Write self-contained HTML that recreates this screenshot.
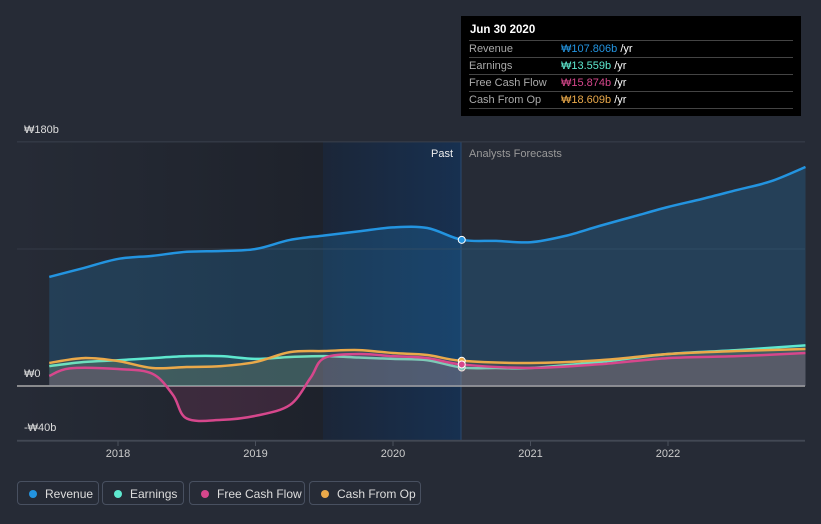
<!DOCTYPE html>
<html><head><meta charset="utf-8"><style>
body{margin:0;width:821px;height:524px;background:#262b36;font-family:"Liberation Sans","Noto Sans CJK KR",sans-serif;overflow:hidden;position:relative}
svg{position:absolute;left:0;top:0}
.tt{position:absolute;left:461px;top:16px;width:340px;height:100px;background:#000;color:#fff;font-size:11px}
.tt .h{font-weight:bold;font-size:11.5px;padding:8px 9px 4px}
.tt .r{border-top:1px solid #444;margin:0 8px;height:16px;line-height:16px;padding-left:0;display:flex}
.tt .r span:first-child{width:92px;color:#aaa}
.leg{position:absolute;top:481px;height:24px;border:1px solid #485060;border-radius:4px;color:#ddd;font-size:12px;line-height:24px;box-sizing:border-box;padding-left:27px}
.leg i{position:absolute;left:11px;top:8px;width:8px;height:8px;border-radius:50%}
</style></head><body>
<svg id="c" width="821" height="524"></svg>
<div class="tt">
<div class="h">Jun 30 2020</div>
<div class="r"><span>Revenue</span><span><b style="color:#2394e0;font-weight:normal">₩107.806b</b> /yr</span></div>
<div class="r"><span>Earnings</span><span><b style="color:#5ee8cf;font-weight:normal">₩13.559b</b> /yr</span></div>
<div class="r"><span>Free Cash Flow</span><span><b style="color:#d6478c;font-weight:normal">₩15.874b</b> /yr</span></div>
<div class="r" style="border-bottom:1px solid #444"><span>Cash From Op</span><span><b style="color:#eaa94a;font-weight:normal">₩18.609b</b> /yr</span></div>
</div>
<div class="leg" style="left:17px;width:82px"><i style="background:#2394e0"></i>Revenue</div>
<div class="leg" style="left:102px;width:82px"><i style="background:#5ee8cf"></i>Earnings</div>
<div class="leg" style="left:189px;width:116px"><i style="background:#d6478c"></i>Free Cash Flow</div>
<div class="leg" style="left:309px;width:112px"><i style="background:#eaa94a"></i>Cash From Op</div>
<script>
const revT=[2017.5,2017.75,2018,2018.25,2018.5,2018.75,2019,2019.25,2019.5,2019.75,2020,2020.25,2020.5,2020.75,2021,2021.25,2021.5,2021.75,2022,2022.25,2022.5,2022.75,2023];
const revV=[80.4,87,93.7,96,99,99.6,101,107.7,111,114,117,116.5,107.8,107,106,110.6,118,125,132,138,144.5,151,161.5];
const earnT=[2017.5,2017.75,2018,2018.25,2018.5,2018.75,2019,2019.25,2019.5,2019.75,2020,2020.25,2020.5,2020.75,2021,2021.5,2022,2022.5,2023];
const earnV=[14.7,17.7,19,20.6,22,22,20,21.4,22,21,20,19,13.6,13.3,13.3,17.7,23.6,26.5,30];
const fcfT=[2017.5,2017.65,2018,2018.25,2018.4,2018.5,2018.75,2019,2019.25,2019.4,2019.5,2019.75,2020,2020.25,2020.5,2021,2021.5,2022,2022.5,2023];
const fcfV=[7.4,13,12.5,9,-6.6,-24,-25,-22,-14,6,20.6,23.6,22,20.6,15.9,13.3,16,20.6,22,24.3];
const cfoT=[2017.5,2017.75,2018,2018.25,2018.5,2018.75,2019,2019.25,2019.5,2019.75,2020,2020.25,2020.5,2021,2021.5,2022,2022.5,2023];
const cfoV=[17,20.6,18.4,13.3,14,14.7,17.7,25,25.8,26.5,24.3,22.9,18.6,17,19,23.6,25.8,27.3];
const yTicks=[180,0,-40];const yLabels=["₩180b","₩0","-₩40b"];
const xTicks=[2018,2019,2020,2021,2022];
const X=t=>118+(t-2018)*137.5, Y=v=>386-v*1.356;
const s=document.getElementById('c'),NS='http://www.w3.org/2000/svg';
function el(tag,a,p){const e=document.createElementNS(NS,tag);for(const k in a)e.setAttribute(k,a[k]);(p||s).appendChild(e);return e;}
const defs=el('defs',{});
defs.innerHTML='<linearGradient id="hl" x1="0" x2="1"><stop offset="0" stop-color="#1b2638"/><stop offset="1" stop-color="#173050"/></linearGradient><linearGradient id="pd" x1="0" x2="1"><stop offset="0" stop-color="#262b36"/><stop offset="1" stop-color="#1e222b"/></linearGradient>';
let r=el('rect',{x:17,y:142,width:306,height:299,fill:'url(#pd)'});
r=el('rect',{x:323,y:142,width:138,height:299,fill:'url(#hl)'});
el('line',{x1:461,x2:461,y1:142,y2:441,stroke:'#2b4a70'});
yTicks.forEach((v,i)=>{const g=el('line',{x1:17,x2:805,y1:Y(v),y2:Y(v),stroke:v==0?'#aaa':'#3a404c','stroke-width':v==0?1.5:1});
const t=el('text',{x:24,y:Y(v)-9,fill:'#ddd','font-size':11});t.textContent=yLabels[i];});
el('line',{x1:17,x2:805,y1:Y(101),y2:Y(101),stroke:'#343a46'});
el('line',{x1:17,x2:805,y1:441,y2:441,stroke:'#4a505c'});
xTicks.forEach(t=>{el('line',{x1:X(t),x2:X(t),y1:441,y2:446,stroke:'#4a505c'});const l=el('text',{x:X(t),y:457,fill:'#ccc','font-size':11,'text-anchor':'middle'});l.textContent=t;});
let t1=el('text',{x:453,y:157,fill:'#eee','font-size':11,'text-anchor':'end'});t1.textContent='Past';
let t2=el('text',{x:469,y:157,fill:'#999','font-size':11});t2.textContent='Analysts Forecasts';
function path(T,V){const p=T.map((t,i)=>[X(t),Y(V[i])]);let d='M'+p[0];for(let i=0;i<p.length-1;i++){const p0=p[i-1]||p[i],p1=p[i],p2=p[i+1],p3=p[i+2]||p2;const c1=[p1[0]+(p2[0]-p0[0])/6,p1[1]+(p2[1]-p0[1])/6],c2=[p2[0]-(p3[0]-p1[0])/6,p2[1]-(p3[1]-p1[1])/6];d+='C'+c1+' '+c2+' '+p2;}return d;}
const series=[['revenue',revT,revV,'#2394e0',0.2],['earnings',earnT,earnV,'#5ee8cf',0.12],['cash-from-op',cfoT,cfoV,'#eaa94a',0.12],['free-cash-flow',fcfT,fcfV,'#d6478c',0.15]];
series.forEach(([n,T,V,c,o])=>{const d=path(T,V);const a=el('path',{d:d+'L'+X(T[T.length-1])+','+Y(0)+'L'+X(T[0])+','+Y(0)+'Z',fill:c,'fill-opacity':o});
const l=el('path',{d:d,fill:'none',stroke:c,'stroke-width':2.5});
const k=T.indexOf(2020.5);const m=el('circle',{cx:X(2020.5),cy:Y(V[k]),r:3.5,fill:c,stroke:'#fff','stroke-width':1});});
</script>
</body></html>
